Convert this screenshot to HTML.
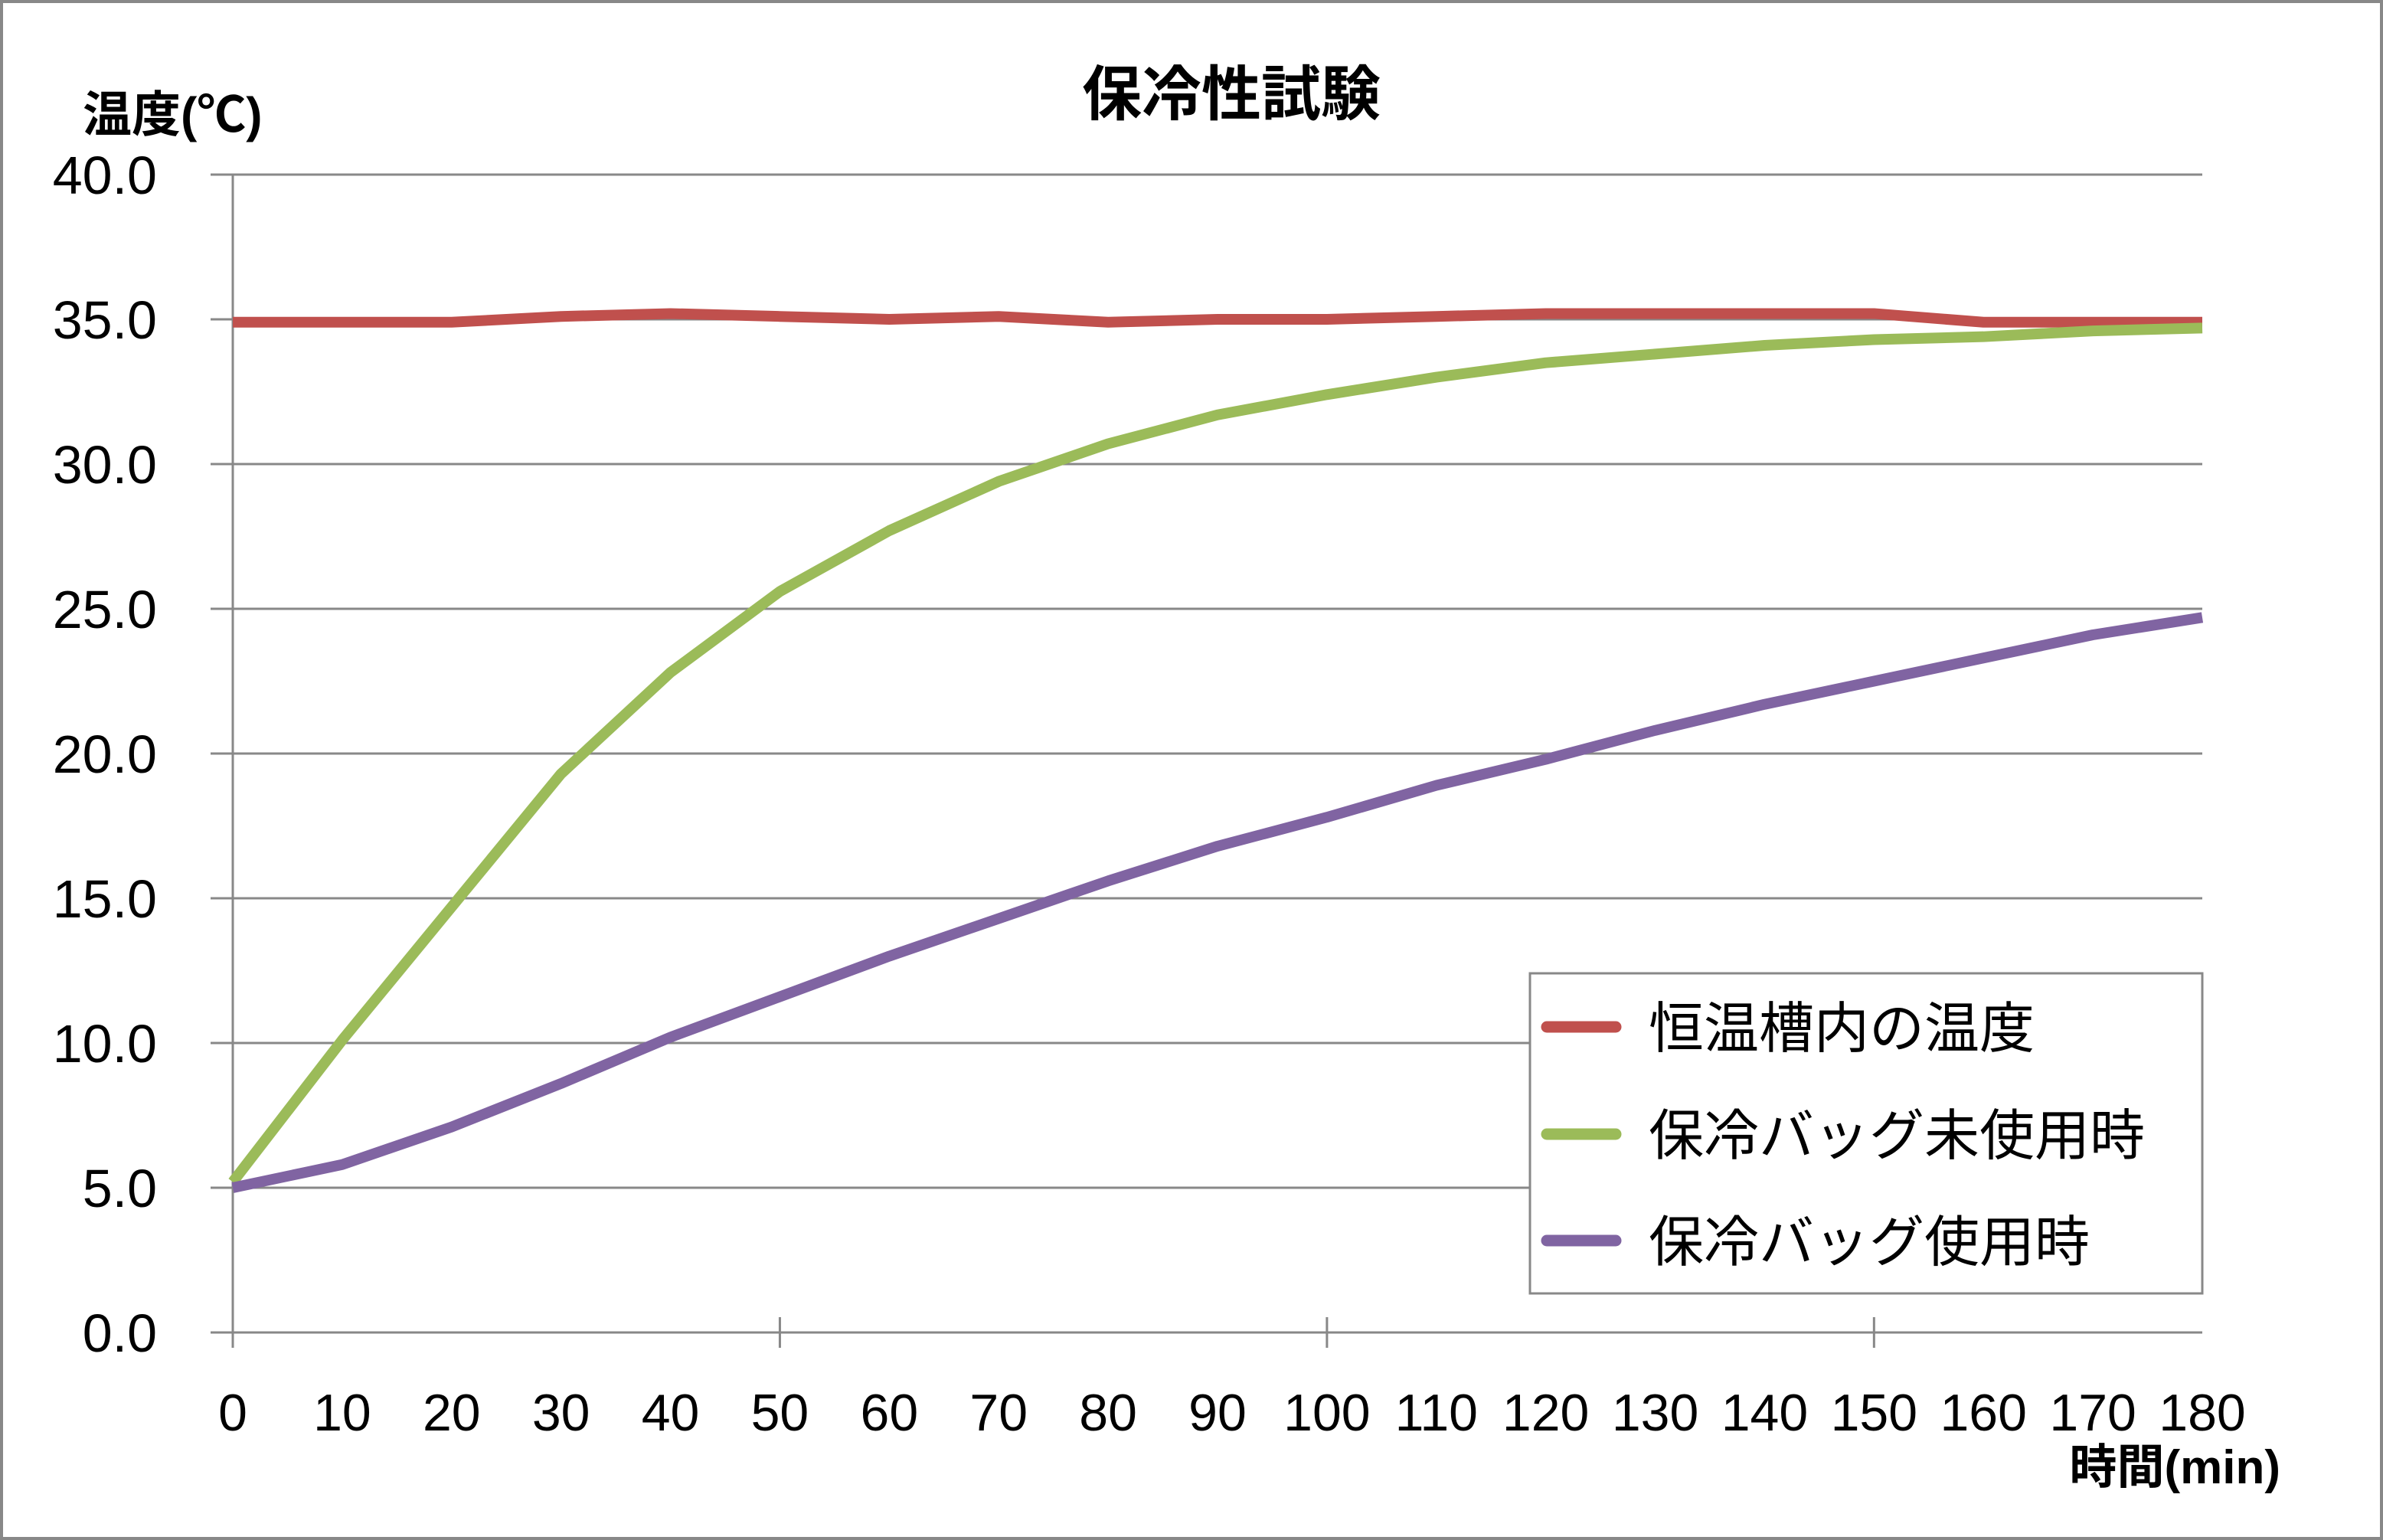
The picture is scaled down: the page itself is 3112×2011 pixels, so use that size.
<!DOCTYPE html>
<html><head><meta charset="utf-8"><style>
html,body{margin:0;padding:0;background:#fff}
svg{display:block}
text{font-family:"Liberation Sans","Noto Sans CJK JP",sans-serif;fill:#000}
</style></head><body>
<svg id="chart" width="3112" height="2011" viewBox="0 0 3112 2011" xmlns="http://www.w3.org/2000/svg">
<rect x="2" y="2" width="3108" height="2007" fill="#fff" stroke="#888" stroke-width="4"/>
<text x="1608" y="150" font-size="78" font-weight="bold" text-anchor="middle">保冷性試験</text>
<text x="108" y="172" font-size="64" font-weight="bold">温度(℃)</text>
<text x="2978" y="1937" font-size="62" font-weight="bold" text-anchor="end">時間(min)</text>
<g id="grid"></g>
<g id="axes"></g>
<g id="series"></g>
<g>
<rect x="1998" y="1271" width="878" height="418" fill="#fff" stroke="#888" stroke-width="3"/>
<line x1="2020" y1="1341" x2="2110" y2="1341" stroke="#C0504D" stroke-width="15" stroke-linecap="round"/>
<text x="2153" y="1368" font-size="72">恒温槽内の温度</text>
<line x1="2020" y1="1481" x2="2110" y2="1481" stroke="#9BBB59" stroke-width="15" stroke-linecap="round"/>
<text x="2153" y="1508" font-size="72">保冷バッグ未使用時</text>
<line x1="2020" y1="1620" x2="2110" y2="1620" stroke="#8064A2" stroke-width="15" stroke-linecap="round"/>
<text x="2153" y="1647" font-size="72">保冷バッグ使用時</text>
</g>
</svg>
<script>
const minutes=[0,10,20,30,40,50,60,70,80,90,100,110,120,130,140,150,160,170,180];
const chamberTemp=[34.9,34.9,34.9,35.1,35.2,35.1,35.0,35.1,34.9,35.0,35.0,35.1,35.2,35.2,35.2,35.2,34.9,34.9,34.9];
const noBagTemp=[5.2,10.1,14.7,19.3,22.8,25.6,27.7,29.4,30.7,31.7,32.4,33.0,33.5,33.8,34.1,34.3,34.4,34.6,34.7];
const bagTemp=[5.0,5.8,7.1,8.6,10.2,11.6,13.0,14.3,15.6,16.8,17.8,18.9,19.8,20.8,21.7,22.5,23.3,24.1,24.7];
const yTicks=["0.0","5.0","10.0","15.0","20.0","25.0","30.0","35.0","40.0"];
const xTicks=["0","10","20","30","40","50","60","70","80","90","100","110","120","130","140","150","160","170","180"];

const NS="http://www.w3.org/2000/svg";
const L=304,R=2876,T=228,B=1740;
const xS=v=>L+(v-0)/(180-0)*(R-L);
const yS=v=>B-(v-0)/(40-0)*(B-T);
function mk(tag,attrs,parent){const e=document.createElementNS(NS,tag);for(const k in attrs)e.setAttribute(k,attrs[k]);parent.appendChild(e);return e;}
const grid=document.getElementById('grid'),axes=document.getElementById('axes'),series=document.getElementById('series');
yTicks.forEach(t=>{
  const v=parseFloat(t),y=yS(v);
  const g=mk('line',{x1:275,x2:R,y1:y,y2:y,stroke:'#888','stroke-width':3},grid);
  
  
  const tx=mk('text',{x:205,y:y+25,'font-size':70,'text-anchor':'end'},axes);
  tx.textContent=t;
  
  
});
const ya=mk('line',{x1:L,x2:L,y1:T,y2:B+20,stroke:'#888','stroke-width':3},axes);


xTicks.forEach(t=>{
  const v=parseFloat(t),x=xS(v);
  if(v%50===0){
    const tk=mk('line',{x1:x,x2:x,y1:B-20,y2:B+20,stroke:'#888','stroke-width':3},axes);
    
    
  }
  const tx=mk('text',{x:x,y:1868,'font-size':68,'text-anchor':'middle'},axes);
  tx.textContent=t;
  
  
});
function line(vals,color,name){
  const pts=vals.map((v,i)=>xS(minutes[i])+','+yS(v)).join(' ');
  const p=mk('polyline',{points:pts,fill:'none',stroke:color,'stroke-width':14,'stroke-linejoin':'round'},series);
  
  
}
line(chamberTemp,'#C0504D','line-chamber-temp');
line(noBagTemp,'#9BBB59','line-no-bag');
line(bagTemp,'#8064A2','line-with-bag');
</script>
</body></html>
